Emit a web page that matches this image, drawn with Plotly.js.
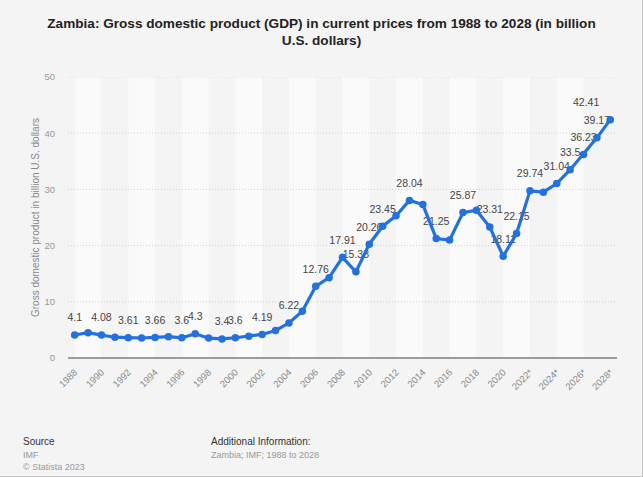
<!DOCTYPE html>
<html>
<head>
<meta charset="utf-8">
<script src="https://cdn.plot.ly/plotly-3.0.1.min.js"></script>
<style>
html,body{margin:0;padding:0;background:#f4f4f4;}
#wrap{position:relative;width:643px;height:477px;}
#frame{position:absolute;left:0;top:0;width:642px;height:476px;border-right:1px solid #c4c4c4;border-bottom:1px solid #c4c4c4;pointer-events:none;}
</style>
</head>
<body>
<div id="wrap"><div id="chart"></div><div id="frame"></div></div>
<script>
// Data
const years = [1988,1989,1990,1991,1992,1993,1994,1995,1996,1997,1998,1999,2000,2001,2002,2003,2004,2005,2006,2007,2008,2009,2010,2011,2012,2013,2014,2015,2016,2017,2018,2019,2020,2021,2022,2023,2024,2025,2026,2027,2028];
const gdp = [4.1,4.5,4.08,3.7,3.61,3.56,3.66,3.8,3.6,4.3,3.54,3.4,3.6,3.87,4.19,4.9,6.22,8.33,12.76,14.3,17.91,15.33,20.26,23.45,25.3,28.04,27.3,21.25,21.0,25.87,26.3,23.31,18.11,22.15,29.74,29.5,31.04,33.5,36.23,39.17,42.41];
const labeledYears = [1988,1990,1992,1994,1996,1997,1999,2000,2002,2004,2006,2008,2009,2010,2011,2013,2015,2017,2019,2020,2021,2022,2024,2025,2026,2027,2028];
const tickYears = [1988,1990,1992,1994,1996,1998,2000,2002,2004,2006,2008,2010,2012,2014,2016,2018,2020,2022,2024,2026,2028];
const tickLabels = ['1988','1990','1992','1994','1996','1998','2000','2002','2004','2006','2008','2010','2012','2014','2016','2018','2020','2022*','2024*','2026*','2028*'];
const yTicks = [0,10,20,30,40,50];

const pointText = years.map((y,i) => labeledYears.includes(y) ? String(gdp[i]) : '');
const textPos = years.map(y => y === 2028 ? 'top left' : 'top center');

// alternating background bands, then dotted gridlines drawn over them
const shapes = [];
for (let y = 1988; y < 2028; y += 4) {
  shapes.push({type:'rect', xref:'x', yref:'paper', x0:y, x1:y+2, y0:0, y1:1,
    fillcolor:'#fafafa', line:{width:0}, layer:'below'});
}
yTicks.filter(v => v > 0).forEach(v => {
  shapes.push({type:'line', xref:'paper', yref:'y', x0:0, x1:1, y0:v, y1:v,
    line:{color:'#cfcfcf', width:1, dash:'1px,2px'}, layer:'below'});
});

const labelTrace = {
  x: years, y: gdp, type:'scatter', mode:'markers+text',
  text: pointText, textposition: textPos,
  textfont:{family:'Liberation Sans, Arial, sans-serif', size:10.5, color:'#444'},
  marker:{color:'rgba(0,0,0,0)', size:16},
  cliponaxis:false, hoverinfo:'skip'
};
const lineTrace = {
  x: years, y: gdp, type:'scatter', mode:'lines+markers',
  line:{color:'#2371de', width:3.2},
  marker:{color:'#2371de', size:7.5},
  hoverinfo:'x+y'
};

const fam = 'Liberation Sans, Arial, sans-serif';
const layout = {
  width:643, height:477,
  paper_bgcolor:'#f4f4f4', plot_bgcolor:'#f4f4f4',
  margin:{l:68, r:26, t:77, b:119},
  showlegend:false,
  font:{family:fam},
  title:{text:'<b>Zambia: Gross domestic product (GDP) in current prices from 1988 to 2028 (in billion<br>U.S. dollars)</b>',
    font:{family:fam, size:13.6, color:'#222'}, x:0.5, xanchor:'center', y:0.942, yanchor:'top', yref:'container'},
  xaxis:{range:[1987.5,2028.5], tickvals:tickYears, ticktext:tickLabels, tickangle:-45,
    tickfont:{family:fam, size:9.5, color:'#8a8a8a'}, showgrid:false, zeroline:false,
    showline:false, ticks:'outside', ticklen:4, tickcolor:'rgba(0,0,0,0)', fixedrange:true},
  yaxis:{range:[0,50], tickvals:yTicks, tickfont:{family:fam, size:9.5, color:'#999'},
    showgrid:false,
    zeroline:true, zerolinecolor:'#9c9c9c', zerolinewidth:2,
    ticks:'outside', ticklen:10, tickcolor:'rgba(0,0,0,0)',
    title:{text:'Gross domestic product in billion U.S. dollars', font:{family:fam, size:10, color:'#888'}, standoff:3},
    fixedrange:true},
  shapes: shapes,
  annotations:[
    {text:'Source', xref:'paper', yref:'paper', x:(21-68)/549, y:(357.7-441)/281, xanchor:'left', yanchor:'middle', showarrow:false, font:{family:fam, size:10, color:'#333'}},
    {text:'IMF', xref:'paper', yref:'paper', x:(21-68)/549, y:(357.7-455)/281, xanchor:'left', yanchor:'middle', showarrow:false, font:{family:fam, size:9, color:'#999'}},
    {text:'© Statista 2023', xref:'paper', yref:'paper', x:(21-68)/549, y:(357.7-467)/281, xanchor:'left', yanchor:'middle', showarrow:false, font:{family:fam, size:9, color:'#999'}},
    {text:'Additional Information:', xref:'paper', yref:'paper', x:(209-68)/549, y:(357.7-441)/281, xanchor:'left', yanchor:'middle', showarrow:false, font:{family:fam, size:10, color:'#333'}},
    {text:'Zambia; IMF; 1988 to 2028', xref:'paper', yref:'paper', x:(209-68)/549, y:(357.7-455)/281, xanchor:'left', yanchor:'middle', showarrow:false, font:{family:fam, size:9, color:'#999'}}
  ]
};

Plotly.newPlot('chart', [labelTrace, lineTrace], layout, {displayModeBar:false, staticPlot:true});
</script>
</body>
</html>
